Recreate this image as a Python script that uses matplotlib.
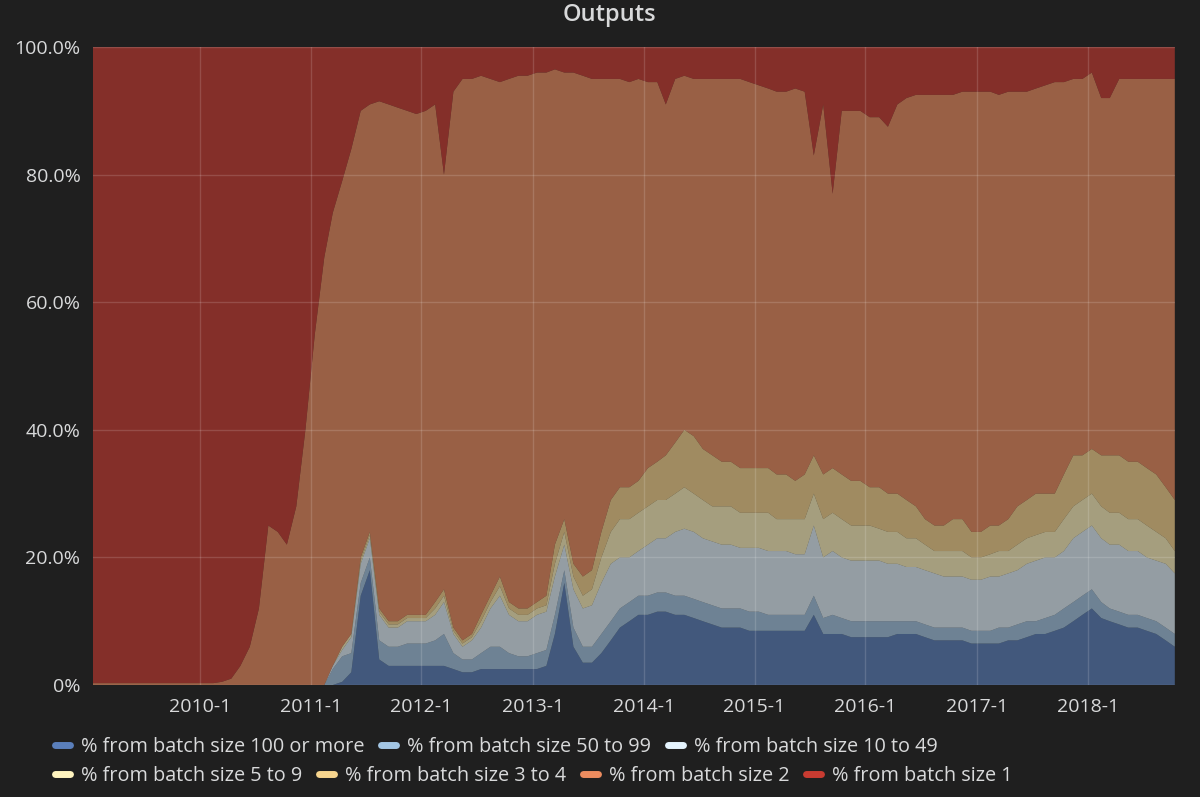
import numpy as np
import pandas as pd
import matplotlib
matplotlib.use('Agg')
import matplotlib.pyplot as plt
import matplotlib.dates as mdates
from matplotlib.lines import Line2D
from matplotlib.ticker import FuncFormatter

plt.rcParams['font.family'] = ['Open Sans', 'DejaVu Sans']

# monthly points, 2009-01 .. 2018-10 (values in % of outputs)
months = pd.date_range('2009-01-01', '2018-10-01', freq='MS') + pd.Timedelta(days=14)

size_100 = [0, 0, 0, 0, 0, 0, 0, 0, 0, 0, 0, 0,
            0, 0, 0, 0, 0, 0, 0, 0, 0, 0, 0, 0,
            0, 0, 0, 0.5, 2, 14, 18, 4, 3, 3, 3, 3,
            3, 3, 3, 2.5, 2, 2, 2.5, 2.5, 2.5, 2.5, 2.5, 2.5,
            2.5, 3, 8, 16, 6, 3.5, 3.5, 5, 7, 9, 10, 11,
            11, 11.5, 11.5, 11, 11, 10.5, 10, 9.5, 9, 9, 9, 8.5,
            8.5, 8.5, 8.5, 8.5, 8.5, 8.5, 11, 8, 8, 8, 7.5, 7.5,
            7.5, 7.5, 7.5, 8, 8, 8, 7.5, 7, 7, 7, 7, 6.5,
            6.5, 6.5, 6.5, 7, 7, 7.5, 8, 8, 8.5, 9, 10, 11,
            12, 10.5, 10, 9.5, 9, 9, 8.5, 8, 7, 6]
size_50 = [0, 0, 0, 0, 0, 0, 0, 0, 0, 0, 0, 0,
           0, 0, 0, 0, 0, 0, 0, 0, 0, 0, 0, 0,
           0, 0, 2.5, 4, 3, 2, 2, 3, 3, 3, 3.5, 3.5,
           3.5, 4, 5, 2.5, 2, 2, 2.5, 3.5, 3.5, 2.5, 2, 2,
           2.5, 2.5, 3, 2, 3, 2.5, 2.5, 3, 3, 3, 3, 3,
           3, 3, 3, 3, 3, 3, 3, 3, 3, 3, 3, 3,
           3, 2.5, 2.5, 2.5, 2.5, 2.5, 3, 2.5, 3, 2.5, 2.5, 2.5,
           2.5, 2.5, 2.5, 2, 2, 2, 2, 2, 2, 2, 2, 2,
           2, 2, 2.5, 2, 2.5, 2.5, 2, 2.5, 2.5, 3, 3, 3,
           3, 2.5, 2, 2, 2, 2, 2, 2, 2, 2]
size_10 = [0, 0, 0, 0, 0, 0, 0, 0, 0, 0, 0, 0,
           0, 0, 0, 0, 0, 0, 0, 0, 0, 0, 0, 0,
           0, 0, 0.5, 1, 2.5, 3, 3, 4, 3, 3, 3.5, 3.5,
           3.5, 4, 5, 3, 2, 3, 4, 6, 8, 6, 5.5, 5.5,
           6, 6, 6, 4, 6, 6, 6.5, 8, 9, 8, 7, 7,
           8, 8.5, 8.5, 10, 10.5, 10.5, 10, 10, 10, 10, 9.5, 10,
           10, 10, 10, 10, 9.5, 9.5, 11, 9.5, 10, 9.5, 9.5, 9.5,
           9.5, 9.5, 9, 9, 8.5, 8.5, 8.5, 8.5, 8, 8, 8, 8,
           8, 8.5, 8, 8.5, 8.5, 9, 9.5, 9.5, 9, 9, 10, 10,
           10, 10, 10, 10.5, 10, 10, 9.5, 9.5, 10, 9.5]
size_5 = [0, 0, 0, 0, 0, 0, 0, 0, 0, 0, 0, 0,
          0, 0, 0, 0, 0, 0, 0, 0, 0, 0, 0, 0,
          0, 0, 0, 0.5, 0.5, 0.5, 0.5, 0.5, 0.5, 0.5, 0.5, 0.5,
          0.5, 1, 1, 0.5, 0.5, 0.5, 1, 1, 1.5, 1, 1, 1,
          1, 1, 2, 2, 2, 2, 2.5, 4, 5, 6, 6, 6,
          6, 6, 6, 6, 6.5, 6, 6, 5.5, 6, 6, 5.5, 5.5,
          5.5, 6, 5, 5, 5.5, 5.5, 5, 6, 6, 6, 5.5, 5.5,
          5.5, 5, 5, 5, 4.5, 4.5, 4, 3.5, 4, 4, 4, 3.5,
          3.5, 3.5, 4, 3.5, 4, 4, 4, 4, 4, 5, 5, 5,
          5, 5, 5, 5, 5, 5, 5, 4.5, 4, 3.5]
size_3 = [0, 0, 0, 0, 0, 0, 0, 0, 0, 0, 0, 0,
          0, 0, 0, 0, 0, 0, 0, 0, 0, 0, 0, 0,
          0, 0, 0, 0, 0, 0.5, 0.5, 0.5, 0.5, 0.5, 0.5, 0.5,
          0.5, 1, 1, 0.5, 0.5, 0.5, 1, 1, 1.5, 1, 1, 1,
          1, 1.5, 3, 2, 2, 3, 3, 4, 5, 5, 5, 5,
          6, 6, 7, 8, 9, 9, 8, 8, 7, 7, 7, 7,
          7, 7, 7, 7, 6, 7, 6, 7, 7, 7, 7, 7,
          6, 6.5, 6, 6, 6, 5, 4, 4, 4, 5, 5, 4,
          4, 4.5, 4, 5, 6, 6, 6.5, 6, 6, 7, 8, 7,
          7, 8, 9, 9, 9, 9, 9, 9, 8, 8]
size_2 = [0.3, 0.3, 0.3, 0.3, 0.3, 0.3, 0.3, 0.3, 0.3, 0.3, 0.3, 0.3,
          0.3, 0.3, 0.5, 1, 3, 6, 12, 25, 24, 22, 28, 40,
          55, 67, 71, 73, 76, 70, 67, 79.5, 81, 80.5, 79, 78.5,
          79, 78, 65, 84, 88, 87, 84.5, 81, 77.5, 82, 83.5, 83.5,
          83, 82, 74.5, 70, 77, 78.5, 77, 71, 66, 64, 63.5, 63,
          60.5, 59.5, 55, 57, 55.5, 56, 58, 59, 60, 60, 61, 60.5,
          60, 59.5, 60, 60, 61.5, 60, 47, 58, 43, 57, 58, 58,
          58, 58, 57.5, 61, 63, 64.5, 66.5, 67.5, 67.5, 66.5, 67, 69,
          69, 68, 67.5, 67, 65, 64, 63.5, 64, 64.5, 61.5, 59, 59,
          59, 56, 56, 59, 60, 60, 61, 62, 64, 66]
size_1 = [99.7, 99.7, 99.7, 99.7, 99.7, 99.7, 99.7, 99.7, 99.7, 99.7, 99.7, 99.7,
          99.7, 99.7, 99.5, 99, 97, 94, 88, 75, 76, 78, 72, 60,
          45, 33, 26, 21, 16, 10, 9, 8.5, 9, 9.5, 10, 10.5,
          10, 9, 20, 7, 5, 5, 4.5, 5, 5.5, 5, 4.5, 4.5,
          4, 4, 3.5, 4, 4, 4.5, 5, 5, 5, 5, 5.5, 5,
          5.5, 5.5, 9, 5, 4.5, 5, 5, 5, 5, 5, 5, 5.5,
          6, 6.5, 7, 7, 6.5, 7, 17, 9, 23, 10, 10, 10,
          11, 11, 12.5, 9, 8, 7.5, 7.5, 7.5, 7.5, 7.5, 7, 7,
          7, 7, 7.5, 7, 7, 7, 6.5, 6, 5.5, 5.5, 5, 5,
          4, 8, 8, 5, 5, 5, 5, 5, 5, 5]

labels = ['% from batch size 100 or more', '% from batch size 50 to 99',
          '% from batch size 10 to 49', '% from batch size 5 to 9',
          '% from batch size 3 to 4', '% from batch size 2', '% from batch size 1']
colors = ['#5a7fbb', '#a3c6e4', '#e4f3fd', '#fff4bf', '#f7d58e', '#ec8c5f', '#c83b31']

bg = '#1f1f1f'
txt = '#d8d9da'

fig = plt.figure(figsize=(12, 7.97), dpi=100, facecolor=bg)
ax = fig.add_axes([0.0775, 0.1405, 0.9015, 0.8005])
ax.set_facecolor(bg)

ax.stackplot(months, size_100, size_50, size_10, size_5, size_3, size_2, size_1,
             colors=colors, alpha=0.6, linewidth=0)

ax.set_xlim(months[0], months[-1])
ax.set_ylim(0, 100)
ax.set_yticks([0, 20, 40, 60, 80, 100])
ax.yaxis.set_major_formatter(FuncFormatter(lambda v, p: '0%' if v == 0 else '%.1f%%' % v))
ax.xaxis.set_major_locator(mdates.YearLocator())
ax.xaxis.set_major_formatter(FuncFormatter(lambda v, p: '%d-1' % mdates.num2date(v).year))

ax.grid(True, color='white', alpha=0.15, linewidth=1)
ax.set_axisbelow(False)
for s in ax.spines.values():
    s.set_visible(False)
ax.tick_params(axis='both', colors=txt, labelsize=14, length=0)
ax.tick_params(axis='y', pad=9)
ax.tick_params(axis='x', pad=9)

fig.text(0.508, 0.981, 'Outputs', ha='center', va='center', fontsize=17,
         fontweight='semibold', color=txt)

handles = [Line2D([], [], color=c, lw=5, solid_capstyle='round') for c in colors]
leg_kw = dict(loc='center left', frameon=False, handlelength=0.75, handletextpad=0.55,
              columnspacing=0.85, fontsize=14.3, labelcolor=txt, borderaxespad=0, borderpad=0)
fig.legend(handles[:3], labels[:3], ncol=3, bbox_to_anchor=(0.046, 0.063), **leg_kw)
fig.legend(handles[3:], labels[3:], ncol=4, bbox_to_anchor=(0.046, 0.0265), **leg_kw)

fig.savefig('out.png', dpi=100, facecolor=bg)
